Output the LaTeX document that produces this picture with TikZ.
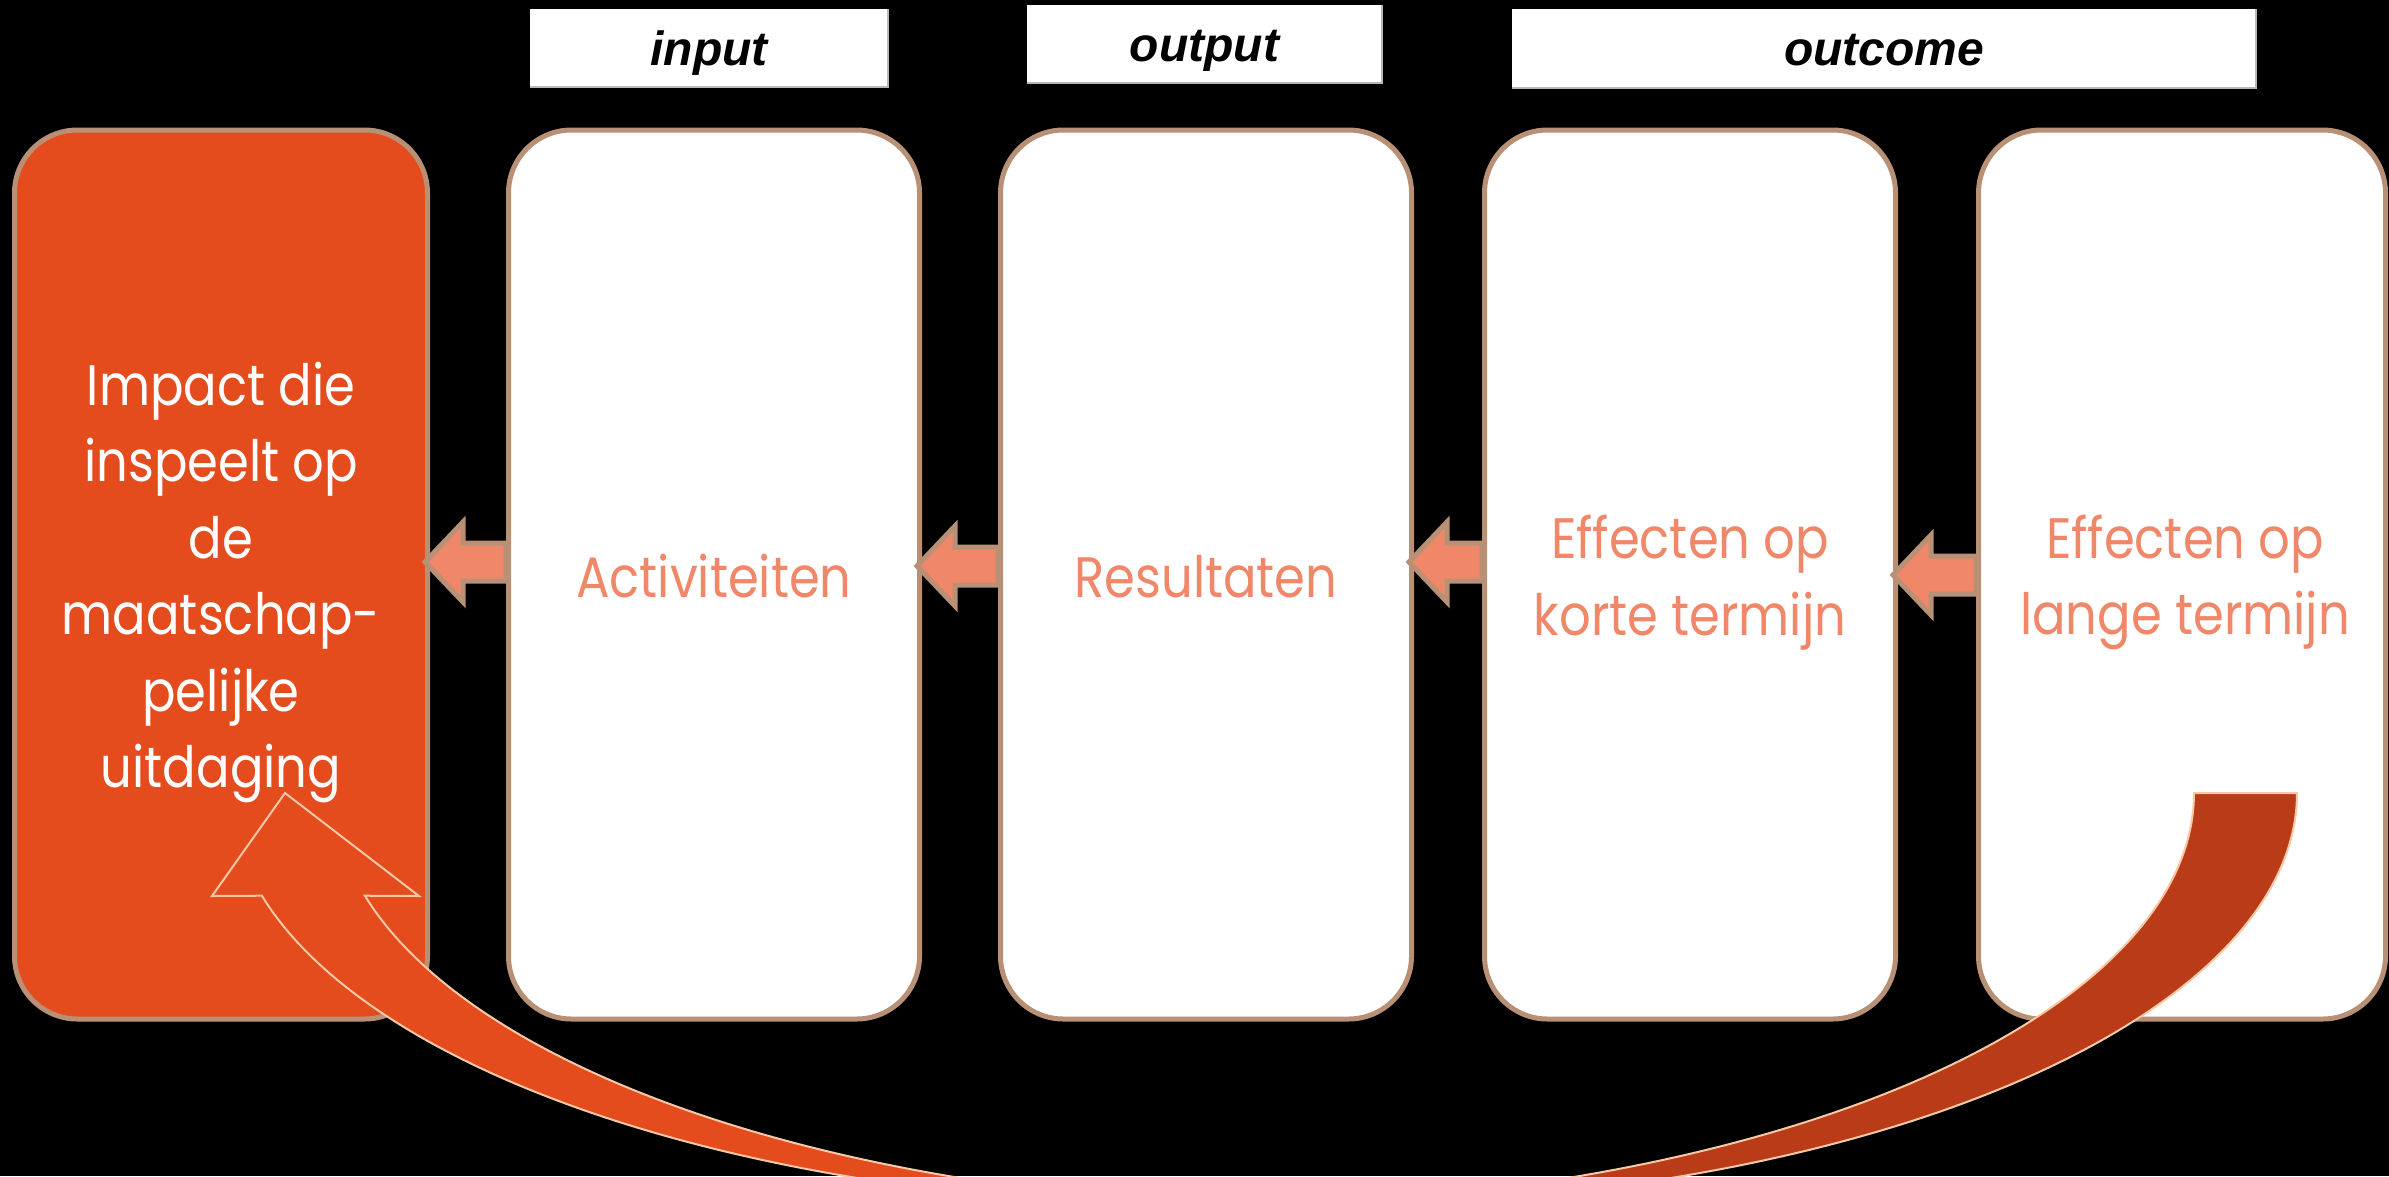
\documentclass[tikz,border=0pt]{standalone}
\usepackage{fontspec}
\setmainfont{Poppins}[FakeStretch=0.87]
\newfontfamily\tagfont{Liberation Sans}
\usetikzlibrary{calc}

\definecolor{impactfill}{RGB}{228,76,30}
\definecolor{rimtan}{RGB}{184,144,117}
\definecolor{salmon}{RGB}{240,135,104}
\definecolor{rust}{RGB}{186,59,23}
\definecolor{peach}{RGB}{246,200,165}

% left-pointing block arrow between two neighbouring stages
% #1 = stage on the left, #2 = stage on the right, #3 = vertical offset of the tip
\newcommand\stepflow[3]{%
  \draw[flowarrow]
    ($(#1.east)+(-5,#3)$) -- ($(#1.east)+(33,#3-40)$) -- ($(#1.east)+(33,#3-19)$)
    -- ($(#2.west)+(0,#3-19)$) -- ($(#2.west)+(0,#3+19)$)
    -- ($(#1.east)+(33,#3+19)$) -- ($(#1.east)+(33,#3+40)$) -- cycle;}

\begin{document}
\begin{tikzpicture}[x=1pt,y=-1pt,
  stagebox/.style={draw=rimtan, line width=5pt, rounded corners=63pt, fill=white,
    minimum width=411pt, minimum height=889pt, inner sep=0pt},
  stagetext/.style={font=\fontsize{57}{76.5}\selectfont, align=center, text=salmon,
    inner sep=0pt},
  tagbox/.style={fill=white, text=black, inner sep=0pt,
    font=\tagfont\bfseries\itshape\fontsize{48}{58}\selectfont,
    text height=34pt, text depth=0pt},
  tagedge/.style={draw=black!28, line width=1.5pt},
  flowarrow/.style={fill=salmon, draw=rimtan, line width=5pt, line join=miter},
  bandfront/.style={fill=impactfill, draw=peach, line width=2pt, line join=miter},
  bandback/.style={fill=rust, draw=peach, line width=2pt, line join=miter}]

% canvas
\fill[black] (0,0) rectangle (2389,1176);
\clip (0,0) rectangle (2389,1176);

% column headings
\node[tagbox, minimum width=358pt, minimum height=78pt] (tin) at (709,48) {input};
\node[tagbox, minimum width=355pt, minimum height=78pt] (tout) at (1204.5,44) {output};
\node[tagbox, minimum width=744pt, minimum height=79pt] (tcome) at (1884,48.5) {outcome};
\foreach \t in {tin,tout,tcome}
  \draw[tagedge] (\t.south west) -- (\t.south east) -- (\t.north east);

% stages of the chain
\node[stagebox, fill=impactfill, minimum width=413pt] (b1) at (221,574.5) {};
\node[stagebox] (b2) at (714,574.5) {};
\node[stagebox] (b3) at (1206,574.5) {};
\node[stagebox] (b4) at (1690,574.5) {};
\node[stagebox, minimum width=407pt] (b5) at (2182,574.5) {};

\node[stagetext, text=white] (t1) at ($(b1.center)+(0,8)$)
  {Impact die\\inspeelt op\\de\\maatschap-\\pelijke\\uitdaging};
\node[stagetext] (t2) at ($(b2.center)+(0,2)$) {Activiteiten};
\node[stagetext] (t3) at ($(b3.center)+(0,2)$) {Resultaten};
\node[stagetext] (t4) at ($(b4.center)+(0,8)$) {Effecten op\\korte termijn};
\node[stagetext] (t5) at ($(b5.center)+(3,8)$) {Effecten op\\lange termijn};

% arrows between the stages
\stepflow{b1}{b2}{-12.5}
\stepflow{b2}{b3}{-8.5}
\stepflow{b3}{b4}{-12.5}
\stepflow{b4}{b5}{0.5}

% long-term effects feeding back into the impact: a curved band
% (back part, rising into the last stage)
\draw[bandback]
  plot[domain=0:80, samples=80] ({1212.5+981.5*cos(\x)},{793+413*sin(\x)})
  -- plot[domain=80:0, samples=80] ({1315.5+981.5*cos(\x)},{793+413*sin(\x)})
  -- cycle;
% front part, ending in the arrow head inside the impact stage
\draw[bandfront]
  plot[domain=165.6:100, samples=80] ({1212.5+981.5*cos(\x)},{793+413*sin(\x)})
  -- plot[domain=100:165.6, samples=80] ({1315.5+981.5*cos(\x)},{793+413*sin(\x)})
  -- (419,896) -- (285,793) -- (212,896) -- cycle;
\end{tikzpicture}
\end{document}
